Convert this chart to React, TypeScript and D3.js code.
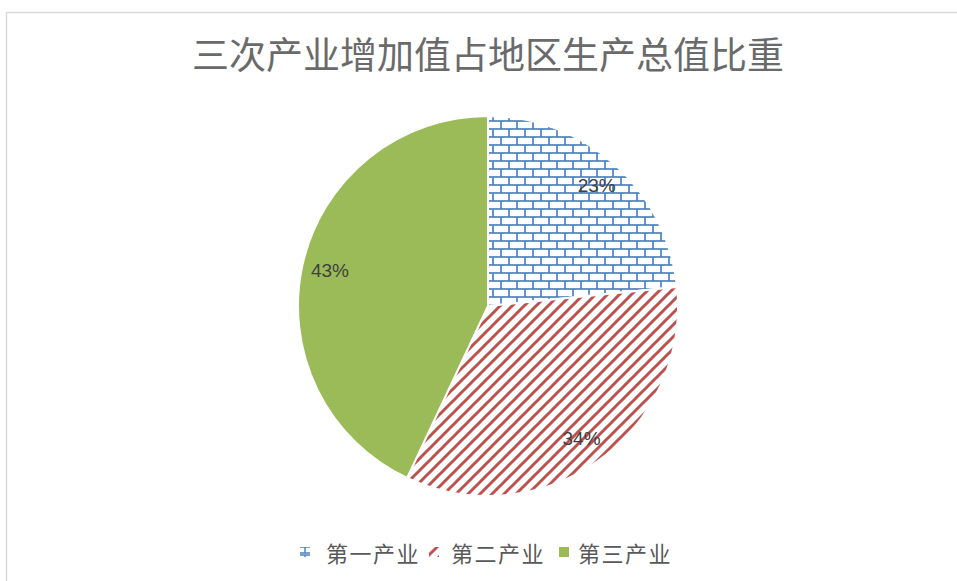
import React from "react";
import * as d3 from "d3";

const title = "三次产业增加值占地区生产总值比重";
const categories = ["第一产业", "第二产业", "第三产业"];
const values = [23.4, 33.6, 43.0];
const colors = ["#4F81BD", "#C0504D", "#9BBB59"];
const fills = ["url(#brick)", "url(#stripe)", "#9BBB59"];

const W = 957;
const H = 581;
const cx = 488;
const cy = 306;
const R = 190;

export default function App() {
  const pie = d3.pie<number>().sort(null).value((d) => d);
  const arcs = pie(values);
  const arc = d3.arc<d3.PieArcDatum<number>>().innerRadius(0).outerRadius(R);
  const labelArc = d3.arc<d3.PieArcDatum<number>>().innerRadius(162).outerRadius(162);
  const total = d3.sum(values);
  const pct = d3.format(".0%");

  const legendMarkerX = [300, 429, 559];
  const legendTextX = [326, 451, 578];

  return (
    <svg
      width={W}
      height={H}
      style={{ position: "absolute", left: 0, top: 0, display: "block", background: "#fff" }}
    >
      <defs>
        <pattern id="brick" patternUnits="userSpaceOnUse" width={16} height={16} x={489} y={118}>
          <rect width={16} height={16} fill="#fff" />
          <g stroke={colors[0]} strokeWidth={1.7} fill="none">
            <line x1={0} y1={1} x2={16} y2={1} />
            <line x1={0} y1={9} x2={16} y2={9} />
            <line x1={4} y1={1} x2={4} y2={9} />
            <line x1={12} y1={9} x2={12} y2={17} />
            <line x1={12} y1={-1} x2={12} y2={1} />
          </g>
        </pattern>
        <pattern id="brickLegend" patternUnits="userSpaceOnUse" width={8} height={8} x={301} y={546}>
          <rect width={8} height={8} fill="#fff" />
          <g stroke={colors[0]} strokeWidth={1.5} fill="none">
            <line x1={0} y1={1} x2={8} y2={1} />
            <line x1={0} y1={7} x2={8} y2={7} />
            <line x1={4} y1={1} x2={4} y2={7} />
          </g>
        </pattern>
        <pattern id="stripe" patternUnits="userSpaceOnUse" width={12} height={12}>
          <rect width={12} height={12} fill="#fff" />
          <g stroke={colors[1]} strokeWidth={3} fill="none">
            <line x1={-3} y1={3} x2={3} y2={-3} />
            <line x1={0} y1={12} x2={12} y2={0} />
            <line x1={9} y1={15} x2={15} y2={9} />
          </g>
        </pattern>
      </defs>

      <rect x={6.5} y={12.5} width={W + 10} height={H + 10} fill="#fff" stroke="#d9d9d9" strokeWidth={1.5} />

      <text
        x={488}
        y={69}
        textAnchor="middle"
        fontFamily="'Noto Sans CJK SC', sans-serif"
        fontSize={37}
        fill="#6a6a6a"
      >
        {title}
      </text>

      <g>
        {arcs.map((a, i) => (
          <path key={i} d={arc(a) || ""} fill={fills[i]} stroke="#fff" strokeWidth={2} transform={`translate(${cx},${cy})`} />
        ))}
      </g>

      <g transform={`translate(${cx},${cy})`}>
        {arcs.map((a, i) => {
          const [lx, ly] = labelArc.centroid(a);
          return (
            <text
              key={i}
              x={lx}
              y={ly}
              textAnchor="middle"
              dominantBaseline="central"
              fontFamily="'Liberation Sans', Arial, sans-serif"
              fontSize={19}
              fill="#404040"
            >
              {pct(a.data / total)}
            </text>
          );
        })}
      </g>

      <g>
        {categories.map((c, i) => (
          <g key={c}>
            <rect
              x={legendMarkerX[i]}
              y={547}
              width={10}
              height={10}
              fill={i === 0 ? "url(#brickLegend)" : fills[i]}
            />
            <text
              x={legendTextX[i]}
              y={552}
              dominantBaseline="central"
              fontFamily="'Noto Sans CJK SC', sans-serif"
              fontSize={22}
              letterSpacing={1.5}
              fill="#595959"
            >
              {c}
            </text>
          </g>
        ))}
      </g>
    </svg>
  );
}
